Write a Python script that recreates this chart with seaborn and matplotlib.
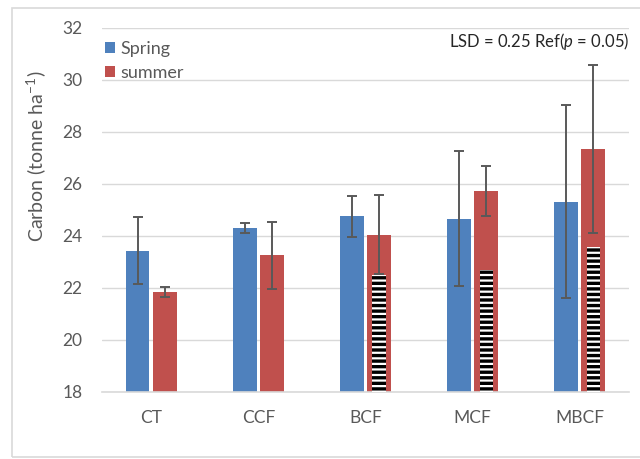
import numpy as np
import pandas as pd
import matplotlib
matplotlib.use("Agg")
import matplotlib.pyplot as plt
from matplotlib.patches import Rectangle
import seaborn as sns

# Treatments and seasonal soil carbon stocks (tonne/ha)
treatments = ["CT", "CCF", "BCF", "MCF", "MBCF"]
seasons = ["Spring", "summer"]
spring = [23.44, 24.31, 24.76, 24.67, 25.32]
summer = [21.86, 23.26, 24.04, 25.73, 27.34]
spring_err = [1.28, 0.18, 0.78, 2.58, 3.71]
summer_err = [0.19, 1.28, 1.52, 0.96, 3.24]
# inner (striped) portion of the summer bars
summer_inner = [np.nan, np.nan, 22.49, 22.71, 23.57]

y_min, y_max = 18, 32
colors = {"Spring": "#4F81BD", "summer": "#C0504D"}
grey_text = "#595959"
grid_col = "#D9D9D9"

sns.set_theme(style="white")
plt.rcParams["font.family"] = ["Lato", "DejaVu Sans"]
plt.rcParams["mathtext.fontset"] = "custom"
plt.rcParams["mathtext.rm"] = "Lato"
plt.rcParams["mathtext.it"] = "Lato:italic"
plt.rcParams["hatch.linewidth"] = 1.6
plt.rcParams["hatch.color"] = "white"

df = pd.DataFrame({
    "treatment": treatments * 2,
    "season": [seasons[0]] * len(treatments) + [seasons[1]] * len(treatments),
    "carbon": spring + summer,
    "err": spring_err + summer_err,
})

fig = plt.figure(figsize=(6.4, 4.59), dpi=100)
ax = fig.add_axes([0.159, 0.146, 0.824, 0.793])

sns.barplot(data=df, x="treatment", y="carbon", hue="season", order=treatments,
            hue_order=seasons, palette=colors, saturation=1, width=0.51, gap=0.13,
            errorbar=None, linewidth=0, ax=ax)

# error bars on each season's bars
errs = [spring_err, summer_err]
for cont, e in zip(ax.containers, errs):
    xs = [b.get_x() + b.get_width() / 2 for b in cont]
    hs = [b.get_height() for b in cont]
    ax.errorbar(xs, hs, yerr=e, fmt="none", ecolor=grey_text, elinewidth=1.4,
                capsize=3.6, capthick=1.4, zorder=4)

# striped inner bars within summer bars
summer_cont = ax.containers[1]
xs = [b.get_x() + b.get_width() / 2 for b in summer_cont]
inner = np.array(summer_inner)
ax.bar(xs, inner - y_min, bottom=y_min, width=0.124, color="black",
       edgecolor="white", linewidth=0, hatch="---", zorder=3)

ax.set_ylim(y_min, y_max)
ax.set_yticks(np.arange(y_min, y_max + 1, 2))
ax.yaxis.grid(True, color=grid_col, linewidth=1)
ax.set_axisbelow(True)
for s in ["left", "right", "top"]:
    ax.spines[s].set_visible(False)
ax.spines["bottom"].set_color(grid_col)
ax.spines["bottom"].set_linewidth(1.2)
ax.tick_params(axis="both", length=0, labelsize=12.5, labelcolor=grey_text)
ax.tick_params(axis="y", pad=14)
ax.tick_params(axis="x", pad=13)
ax.set_xlabel("")
ax.set_ylabel("")

fig.text(0.056, 0.66, r"Carbon (tonne ha$^{\mathregular{-1}}$)", rotation=90,
         ha="center", va="center", fontsize=14, color=grey_text)

handles, labels = ax.get_legend_handles_labels()
ax.legend(handles, labels, loc="upper left", bbox_to_anchor=(-0.015, 0.995),
          frameon=False, fontsize=13, handlelength=0.55, handleheight=0.55,
          handletextpad=0.3, labelspacing=0.45, labelcolor=grey_text,
          borderaxespad=0.2)

ax.text(1.0, 0.962, r"LSD = 0.25 Ref($\it{p}$ = 0.05)", transform=ax.transAxes,
        ha="right", va="center", fontsize=12, color="#262626")

fig.patches.append(Rectangle((12 / 640, 2 / 459), 1.0, 449 / 459, transform=fig.transFigure,
                             fill=False, edgecolor=grid_col, linewidth=1.2))

fig.savefig("out.png", dpi=100)
